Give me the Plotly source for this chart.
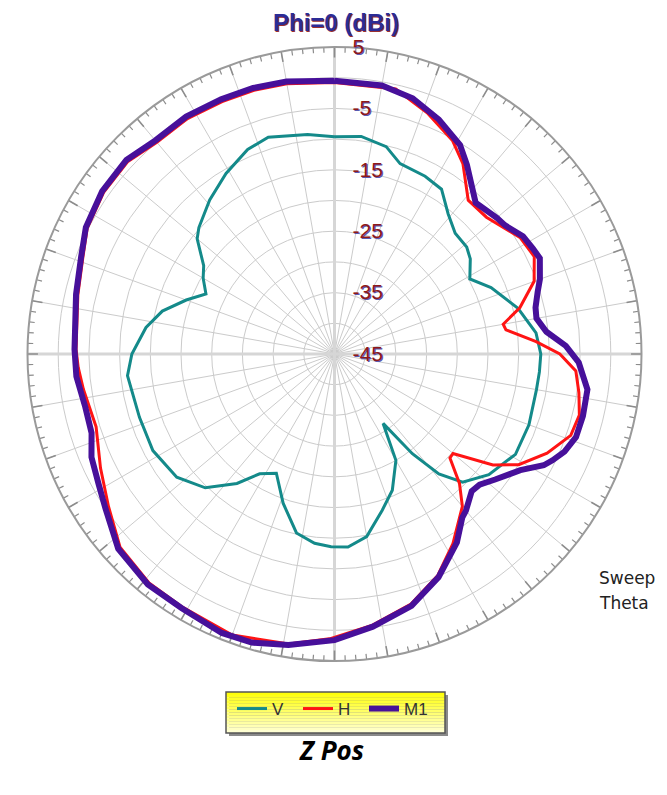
import plotly.graph_objects as go

# ---------------- data (theta in degrees, clockwise from top; gain in dBi) ----------------
v_theta = [0, 7, 14, 19, 27, 33, 39, 45, 51, 55, 61, 67, 76, 84, 90, 95, 100, 110, 119, 128,
           135, 139, 142, 145, 150, 157, 163, 170, 176, 181, 186, 192, 199, 206, 212, 217, 224,
           232, 242, 252, 264, 270, 278, 284, 290, 295, 300, 304, 310, 313, 321, 329, 337, 343,
           353, 360]
v_db = [-9.6, -9.3, -10.2, -12.2, -12.5, -13.0, -15.6, -17.2, -17.3, -18.0, -19.8, -17.3, -14.2,
        -12.0, -11.4, -11.5, -11.6, -11.3, -11.3, -13.1, -15.5, -19.1, -24.4, -31.2, -25.0, -20.9,
        -18.4, -14.8, -13.5, -13.6, -14.0, -15.2, -19.3, -23.4, -22.0, -18.6, -14.7, -12.4, -11.5,
        -11.6, -11.1, -12.0, -14.0, -16.1, -19.3, -21.9, -20.3, -19.3, -15.8, -14.8, -12.7, -10.7,
        -8.8, -8.1, -9.0, -9.6]

h_theta = [0, 13, 21, 29, 34, 41, 48, 58, 64, 70, 76, 80, 82, 86.5, 90, 94, 99, 104, 109, 115,
           121, 125, 130, 132, 136, 140, 148, 155, 163, 172, 181, 189, 200, 211, 219, 228, 236,
           244, 253, 262, 267, 271, 283, 291, 297, 305, 313, 320, 328, 336, 343, 350, 360]
h_db = [-0.8, -0.7, -2.9, -5.3, -7.6, -11.8, -11.7, -9.3, -8.8, -10.4, -13.9, -17.1, -16.8, -12.1,
        -8.3, -5.6, -4.7, -3.9, -4.3, -6.8, -10.0, -13.5, -19.8, -19.7, -15.7, -12.6, -8.6, -5.2,
        -2.4, -0.4, 1.4, 2.8, 3.7, 3.1, 3.0, 2.0, -0.6, -2.6, -4.4, -3.7, -3.2, -2.9, -2.1, -1.1,
        0.2, 0.9, 1.0, 0.0, 0.2, 0.0, -0.1, -0.3, -0.8]

m1_theta = [0, 10, 17, 24, 31, 35, 43, 50, 53, 58, 62, 65, 70, 73, 77, 80, 84, 88, 92, 98, 104,
            109, 113, 116, 118, 122, 128, 132, 135, 140, 142, 147, 155, 163, 172, 180, 189, 196,
            202, 211, 219, 228, 236, 241, 247, 252, 258, 265, 271, 283, 291, 297, 305, 313, 320,
            328, 336, 343, 350, 360]
m1_db = [-0.5, -0.6, -1.45, -3.2, -5.3, -7.4, -11.3, -10.5, -10.2, -8.8, -8.4, -8.1, -9.4, -10.4,
         -11.4, -11.6, -10.3, -7.3, -5.2, -3.4, -3.3, -3.4, -4.3, -5.5, -6.4, -9.3, -11.8, -13.2,
         -13.4, -11.7, -11.2, -8.4, -4.9, -2.1, -0.15, 1.6, 3.0, 3.9, 4.0, 3.3, 3.3, 2.4, 0.0,
         -1.1, -2.0, -3.4, -3.5, -2.8, -2.65, -1.8, -0.8, 0.45, 1.2, 1.35, 0.4, 0.6, 0.4, 0.3,
         0.05, -0.5]

r_min, r_max = -45, 5
radial_ticks = list(range(-45, 6, 5))
radial_labels = [str(t) if (t + 45) % 10 == 0 else "" for t in radial_ticks]

# ---------------- geometry helpers (page has an 8px body margin) ----------------
OFF = 8
W, H = 667 - 2 * OFF, 795 - 2 * OFF


def px(x):
    return (x - OFF) / W


def py(y):
    return 1 - (y - OFF) / H


cx, cy, R = 334.5, 354.0, 307.0

# labels sit to the right of the vertical axis: small left padding
pad = "\u00a0" * 3
radial_text = [pad + s if s else "" for s in radial_labels]

# ---------------- figure ----------------
fig = go.Figure()

# thicker light axis lines (0/180 and 90/270)
ax_r, ax_t = [], []
for a in (0, 90):
    ax_r += [r_max, r_min, r_max, None]
    ax_t += [a, a, a + 180, None]
fig.add_trace(go.Scatterpolar(r=ax_r, theta=ax_t, mode="lines", showlegend=False,
                              hoverinfo="skip", line=dict(color="#D6D6D6", width=3)))

# outer ring tick marks: every 2 deg, longer every 10 deg
tk_r, tk_t, tk_r2, tk_t2 = [], [], [], []
for a in range(0, 360, 2):
    if a % 10 == 0:
        tk_r2 += [r_max - 1.7, r_max, None]
        tk_t2 += [a, a, None]
    else:
        tk_r += [r_max - 0.9, r_max, None]
        tk_t += [a, a, None]
fig.add_trace(go.Scatterpolar(r=tk_r, theta=tk_t, mode="lines", showlegend=False,
                              hoverinfo="skip", line=dict(color="#8C8C8C", width=1.2)))
fig.add_trace(go.Scatterpolar(r=tk_r2, theta=tk_t2, mode="lines", showlegend=False,
                              hoverinfo="skip", line=dict(color="#8C8C8C", width=1.6)))

fig.add_trace(go.Scatterpolar(r=v_db, theta=v_theta, mode="lines", name="V",
                              line=dict(color="#148A8A", width=3)))
fig.add_trace(go.Scatterpolar(r=h_db, theta=h_theta, mode="lines", name="H",
                              line=dict(color="#FF1414", width=3)))
fig.add_trace(go.Scatterpolar(r=m1_db, theta=m1_theta, mode="lines", name="M1",
                              line=dict(color="#47109A", width=6)))

fig.update_layout(
    width=W, height=H,
    margin=dict(l=0, r=0, t=0, b=0),
    paper_bgcolor="white",
    showlegend=True,
    title=dict(text="<b>Phi=0 (dBi)</b>", x=px(336), xanchor="center", y=py(23),
               yanchor="middle",
               font=dict(family="Liberation Sans", size=24, color="#2C2C96",
                         shadow="1px 1px 0px #9A3030")),
    polar=dict(
        domain=dict(x=[px(cx - R), px(cx + R)], y=[py(cy + R), py(cy - R)]),
        bgcolor="white",
        radialaxis=dict(range=[r_min, r_max], tickvals=radial_ticks, ticktext=radial_text,
                        angle=90, side="clockwise", tickangle=90, showline=False, ticks="",
                        gridcolor="#CBCBCB", gridwidth=1, layer="above traces",
                        tickfont=dict(family="Liberation Sans", size=21, color="#8E1A1A",
                                      shadow="1px 1px 0px #5A5AB0")),
        angularaxis=dict(rotation=90, direction="clockwise", dtick=10, showticklabels=False,
                         ticks="", gridcolor="#CBCBCB", gridwidth=1, showline=True,
                         linecolor="#9A9A9A", linewidth=2),
    ),
    legend=dict(orientation="h", x=px(232), xanchor="left", y=py(709),
                yanchor="middle", bgcolor="rgba(0,0,0,0)",
                font=dict(family="Liberation Sans", size=17, color="#333333"),
                itemwidth=30, entrywidth=21),
)

# legend box: shadow, gradient bands, border
lx0, lx1, ly0, ly1 = 226, 445, 692, 733
shapes = [dict(type="rect", xref="paper", yref="paper", layer="below",
               x0=px(lx0 + 3), x1=px(lx1 + 3), y0=py(ly1 + 3), y1=py(ly0 + 3),
               fillcolor="#8A8A8A", line=dict(width=0))]
nb = 14
for i in range(nb):
    t = i / (nb - 1)
    b = int(10 + t * 200)
    ya = ly0 + (ly1 - ly0) * i / nb
    yb = ly0 + (ly1 - ly0) * (i + 1) / nb
    shapes.append(dict(type="rect", xref="paper", yref="paper", layer="below",
                       x0=px(lx0), x1=px(lx1), y0=py(yb), y1=py(ya),
                       fillcolor=f"rgb(255,255,{b})", line=dict(width=0)))
shapes.append(dict(type="rect", xref="paper", yref="paper", layer="below",
                   x0=px(lx0), x1=px(lx1), y0=py(ly1), y1=py(ly0),
                   fillcolor="rgba(0,0,0,0)", line=dict(color="#555555", width=1.5)))
fig.update_layout(shapes=shapes)

fig.add_annotation(text="Sweep", x=px(597), y=py(578), xref="paper", yref="paper",
                   xanchor="left", yanchor="middle", showarrow=False,
                   font=dict(family="DejaVu Sans", size=17, color="#222222"))
fig.add_annotation(text="Theta", x=px(597), y=py(603), xref="paper", yref="paper",
                   xanchor="left", yanchor="middle", showarrow=False,
                   font=dict(family="DejaVu Sans", size=17, color="#222222"))
fig.add_annotation(text="<b><i>Z Pos</i></b>", x=px(331), y=py(750), xref="paper",
                   yref="paper", xanchor="center", yanchor="middle", showarrow=False,
                   font=dict(family="Open Sans", size=26, color="#000000"))

fig.write_html("out.html")
